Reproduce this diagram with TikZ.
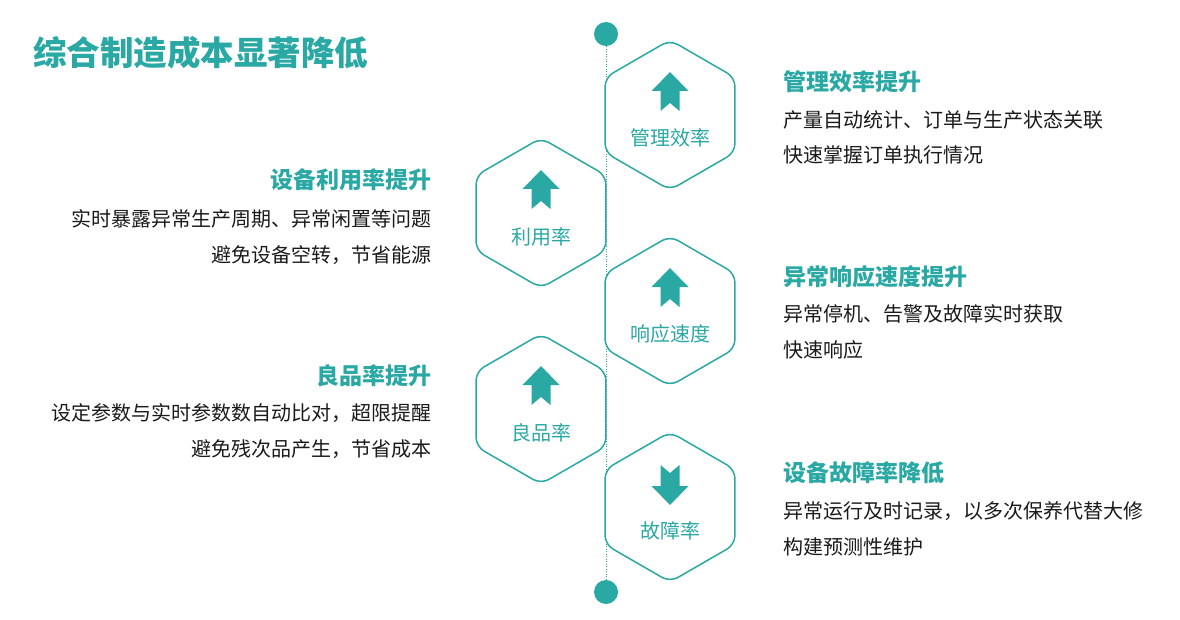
\documentclass[tikz,border=0pt]{standalone}
\usepackage{fontspec}
\setmainfont{Noto Sans CJK SC}
\usepackage{tikz}
\usetikzlibrary{shapes.geometric}
\definecolor{tealc}{RGB}{41,168,164}
\definecolor{bodyc}{RGB}{26,26,26}
\tikzset{
  hexa/.style={regular polygon, regular polygon sides=6, shape border rotate=30,
    minimum size=150pt, inner sep=0pt, draw=tealc, line width=1.5pt,
    fill=white, rounded corners=9pt},
  dot/.style={circle, fill=tealc, minimum size=24pt, inner sep=0pt},
  heading/.style={font=\fontsize{23}{28}\selectfont\bfseries, text=tealc, inner sep=0pt},
  body/.style={font=\fontsize{20}{35.5}\selectfont, text=bodyc, inner sep=0pt},
  lbl/.style={font=\fontsize{20}{24}\selectfont, text=tealc, inner sep=0pt}
}

\begin{document}
\begin{tikzpicture}[x=1pt,y=-1pt]
\useasboundingbox (0,0) rectangle (1180,620);
\node[font=\fontsize{33.5}{40}\selectfont\bfseries, text=tealc, inner sep=0pt, anchor=west]
  (title) at (33,53) {综合制造成本显著降低};

% timeline
\node[dot] (topdot) at (606,34) {};
\node[dot] (botdot) at (606,592) {};
\draw[tealc, line width=1pt, dash pattern=on 1pt off 1.5pt] (topdot) -- (botdot);

% hexagons
\node[hexa] (mgmt) at (670,115) {};
\node[hexa] (util) at (541,213) {};
\node[hexa] (resp) at (670,311) {};
\node[hexa] (yield) at (541,409) {};
\node[hexa] (fault) at (670,507) {};

\node[lbl] (mgmt-l) at (670,138) {管理效率};
\node[lbl] (util-l) at (541,237) {利用率};
\node[lbl] (resp-l) at (670,334) {响应速度};
\node[lbl] (yield-l) at (541,433) {良品率};
\node[lbl] (fault-l) at (670,531) {故障率};

% arrows
\fill[tealc, shift={(mgmt.center)}] (0,-43) -- (18.5,-24) -- (9.5,-24) -- (9.5,-4)
  -- (0,-12) -- (-9.5,-4) -- (-9.5,-24) -- (-18.5,-24) -- cycle;
\fill[tealc, shift={(util.center)}] (0,-43) -- (18.5,-24) -- (9.5,-24) -- (9.5,-4)
  -- (0,-12) -- (-9.5,-4) -- (-9.5,-24) -- (-18.5,-24) -- cycle;
\fill[tealc, shift={(resp.center)}] (0,-43) -- (18.5,-24) -- (9.5,-24) -- (9.5,-4)
  -- (0,-12) -- (-9.5,-4) -- (-9.5,-24) -- (-18.5,-24) -- cycle;
\fill[tealc, shift={(yield.center)}] (0,-43) -- (18.5,-24) -- (9.5,-24) -- (9.5,-4)
  -- (0,-12) -- (-9.5,-4) -- (-9.5,-24) -- (-18.5,-24) -- cycle;
\fill[tealc, shift={(fault.center)}] (0,-2) -- (18.5,-21) -- (9.5,-21) -- (9.5,-42)
  -- (0,-34) -- (-9.5,-42) -- (-9.5,-21) -- (-18.5,-21) -- cycle;

% right side texts
\node[heading, anchor=west] (mgmt-h) at (783,82) {管理效率提升};
\node[body, anchor=west, align=left] (mgmt-b) at (783,137.5)
  {产量自动统计、订单与生产状态关联\\快速掌握订单执行情况};
\node[heading, anchor=west] (resp-h) at (783,277) {异常响应速度提升};
\node[body, anchor=west, align=left] (resp-b) at (783,332)
  {异常停机、告警及故障实时获取\\快速响应};
\node[heading, anchor=west] (fault-h) at (783,473) {设备故障率降低};
\node[body, anchor=west, align=left] (fault-b) at (783,529)
  {异常运行及时记录，以多次保养代替大修\\构建预测性维护};

% left side texts
\node[heading, anchor=east] (util-h) at (432,180) {设备利用率提升};
\node[body, anchor=east, align=right] (util-b) at (432,237)
  {实时暴露异常生产周期、异常闲置等问题\\避免设备空转，节省能源};
\node[heading, anchor=east] (yield-h) at (432,376) {良品率提升};
\node[body, anchor=east, align=right] (yield-b) at (432,431)
  {设定参数与实时参数数自动比对，超限提醒\\避免残次品产生，节省成本};
\end{tikzpicture}
\end{document}
